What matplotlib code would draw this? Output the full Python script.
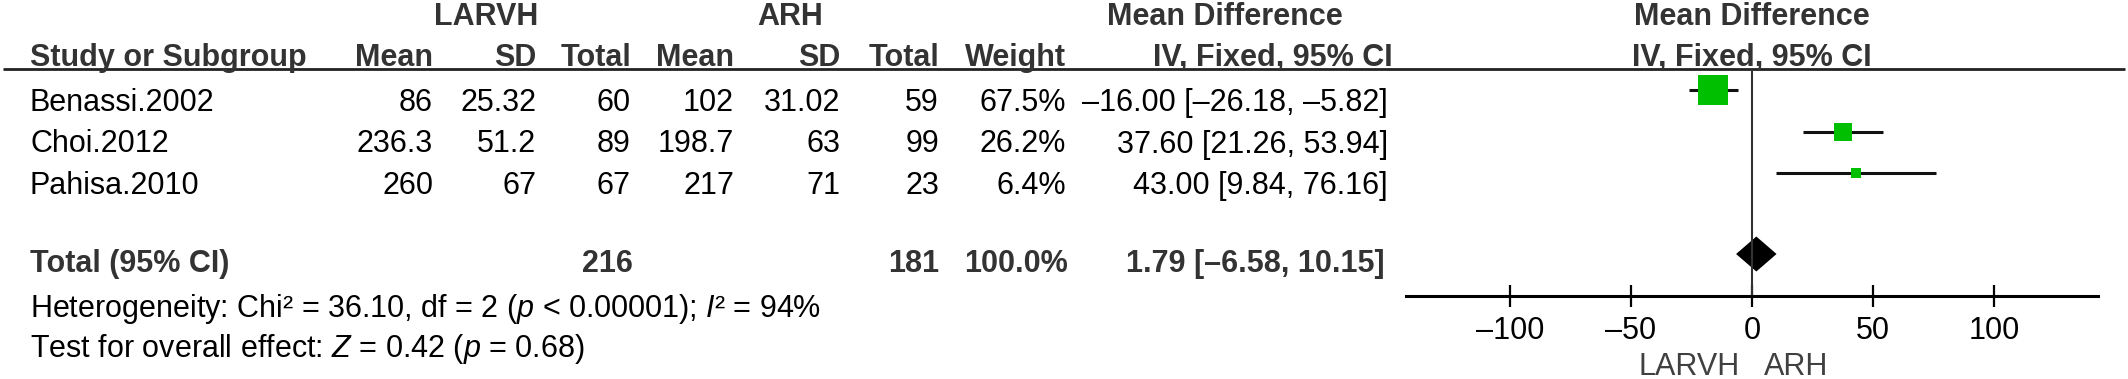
import numpy as np
import matplotlib.pyplot as plt

plt.rcParams['font.family'] = ['Liberation Sans', 'DejaVu Sans']
plt.rcParams['mathtext.fontset'] = 'custom'
plt.rcParams['mathtext.rm'] = 'Liberation Sans'
plt.rcParams['mathtext.it'] = 'Liberation Sans:italic'

# ---- data ----
studies = ["Benassi.2002", "Choi.2012", "Pahisa.2010"]
larvh_mean = [86, 236.3, 260]
larvh_sd = [25.32, 51.2, 67]
larvh_n = [60, 89, 67]
arh_mean = [102, 198.7, 217]
arh_sd = [31.02, 63, 71]
arh_n = [59, 99, 23]
weight = [67.5, 26.2, 6.4]
md = [-16.00, 37.60, 43.00]
ci_lo = [-26.18, 21.26, 9.84]
ci_hi = [-5.82, 53.94, 76.16]

total_larvh = 216
total_arh = 181
total_weight = 100.0
total_md = 1.79
total_lo = -6.58
total_hi = 10.15

heterogeneity = r"Heterogeneity: Chi² = 36.10, df = 2 ($\mathit{p}$ < 0.00001); $\mathit{I}$² = 94%"
overall = r"Test for overall effect: $\mathit{Z}$ = 0.42 ($\mathit{p}$ = 0.68)"

xticks = [-100, -50, 0, 50, 100]
xlim = 143
left_label = "LARVH"
right_label = "ARH"

# ---- layout (pixels) ----
W, H = 2128, 379
FS = 22
HEAD = '#333333'
GREEN = '#00bf00'
rule_y = 69
axis_y = 296
row_base = [111 + 41.5 * i for i in range(len(studies))]
total_base = 272


def fmt(v):
    return f"{v:.2f}".replace('-', '\u2013')


fig = plt.figure(figsize=(W / 100, H / 100), dpi=100)
tab = fig.add_axes([0, 0, 1, 1])
tab.set_xlim(0, W)
tab.set_ylim(H, 0)
tab.axis('off')

# headers
tab.text(486, 25, "LARVH", ha='center', va='baseline', fontsize=FS, weight='bold', color=HEAD)
tab.text(790, 25, "ARH", ha='center', va='baseline', fontsize=FS, weight='bold', color=HEAD)
tab.text(1225, 25, "Mean Difference", ha='center', va='baseline', fontsize=FS, weight='bold', color=HEAD)
tab.text(30, 66, "Study or Subgroup", ha='left', va='baseline', fontsize=FS, weight='bold', color=HEAD)
col_right = [433, 536, 631, 734, 840, 939, 1066]
col_names = ["Mean", "SD", "Total", "Mean", "SD", "Total", "Weight"]
for x, name in zip(col_right, col_names):
    tab.text(x, 66, name, ha='right', va='baseline', fontsize=FS, weight='bold', color=HEAD)
tab.text(1393, 66, "IV, Fixed, 95% CI", ha='right', va='baseline', fontsize=FS, weight='bold', color=HEAD)
tab.plot([3, 2125], [rule_y, rule_y], color='#222222', lw=2, solid_capstyle='butt')

# study rows
for i, name in enumerate(studies):
    y = row_base[i]
    cells = [f"{larvh_mean[i]:g}", f"{larvh_sd[i]:g}", str(larvh_n[i]),
             f"{arh_mean[i]:g}", f"{arh_sd[i]:g}", str(arh_n[i]), f"{weight[i]:.1f}%"]
    tab.text(30, y, name, ha='left', va='baseline', fontsize=FS, color='black')
    for x, c in zip(col_right, cells):
        tab.text(x, y, c, ha='right', va='baseline', fontsize=FS, color='black')
    tab.text(1388, y, f"{fmt(md[i])} [{fmt(ci_lo[i])}, {fmt(ci_hi[i])}]",
             ha='right', va='baseline', fontsize=FS, color='black')

# total row
tab.text(30, total_base, "Total (95% CI)", ha='left', va='baseline', fontsize=FS, weight='bold', color=HEAD)
tab.text(633, total_base, str(total_larvh), ha='right', va='baseline', fontsize=FS, weight='bold', color=HEAD)
tab.text(939, total_base, str(total_arh), ha='right', va='baseline', fontsize=FS, weight='bold', color=HEAD)
tab.text(1068, total_base, f"{total_weight:.1f}%", ha='right', va='baseline', fontsize=FS, weight='bold', color=HEAD)
tab.text(1385, total_base, f"{fmt(total_md)} [{fmt(total_lo)}, {fmt(total_hi)}]",
         ha='right', va='baseline', fontsize=FS, weight='bold', color=HEAD)
tab.text(30, 317, heterogeneity, ha='left', va='baseline', fontsize=FS, color='black')
tab.text(30, 357, overall, ha='left', va='baseline', fontsize=FS, color='black')

# ---- forest plot ----
fa = fig.add_axes([1406 / W, 0, (2098 - 1406) / W, 1])
fa.set_xlim(-xlim, xlim)
fa.set_ylim(H, 0)
fa.patch.set_visible(False)
for s in ['top', 'left', 'right']:
    fa.spines[s].set_visible(False)
fa.spines['bottom'].set_position(('data', axis_y))
fa.spines['bottom'].set_linewidth(2.2)
fa.set_yticks([])
fa.set_xticks(xticks)
fa.set_xticklabels([str(t).replace('-', '\u2013') for t in xticks])
fa.tick_params(axis='x', direction='inout', length=16.5, width=1.6, pad=6, labelsize=FS)

fa.text(0, 25, "Mean Difference", ha='center', va='baseline', fontsize=FS, weight='bold', color=HEAD)
fa.text(0, 66, "IV, Fixed, 95% CI", ha='center', va='baseline', fontsize=FS, weight='bold', color=HEAD)

fa.vlines(0, rule_y, axis_y, color='#333333', lw=1.5)
for i in range(len(studies)):
    y = row_base[i] - 21
    fa.hlines(y, ci_lo[i], ci_hi[i], color='#111111', lw=2.2)
    side = 3.7 * np.sqrt(weight[i]) * 72 / 100
    fa.plot(md[i], y, marker='s', ms=side, mew=0, color=GREEN, linestyle='none')

dy = total_base - 18
h = 17.5
fa.fill([total_lo, total_md, total_hi, total_md], [dy, dy - h, dy, dy + h], color='black', lw=0)

fa.text(-5, 375, left_label, ha='right', va='baseline', fontsize=FS, color='#404040')
fa.text(5, 375, right_label, ha='left', va='baseline', fontsize=FS, color='#404040')

fig.savefig('out.png', dpi=100)
